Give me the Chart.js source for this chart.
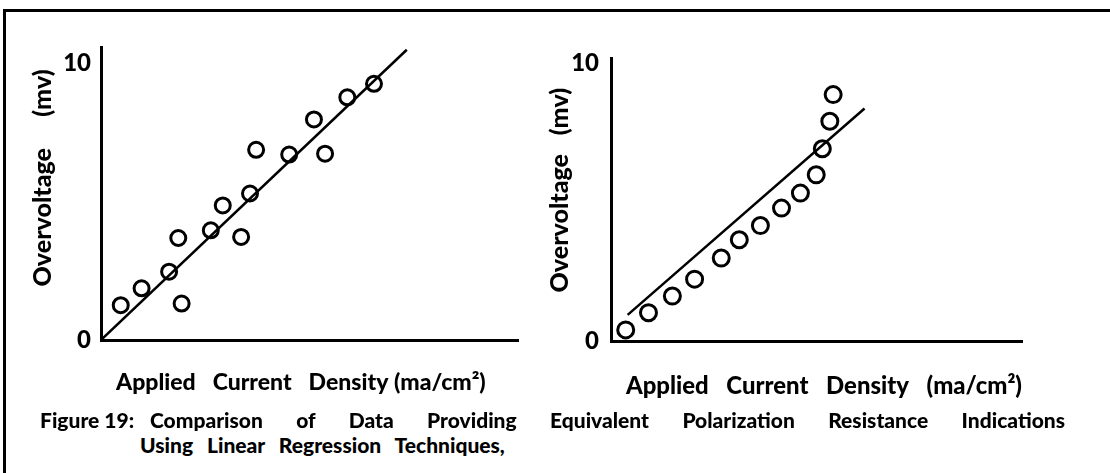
<!DOCTYPE html>
<html>
<head>
<meta charset="utf-8">
<script src="https://cdn.jsdelivr.net/npm/chart.js@4.4.1/dist/chart.umd.min.js"></script>
<style>
  html, body { margin: 0; padding: 0; background: #fff; }
  body { width: 1110px; height: 473px; position: relative; overflow: hidden; font-family: "Lato", "DejaVu Sans", sans-serif; color: #000; }
  .frame { position: absolute; left: 3px; top: 9px; width: 1120px; height: 480px; border-top: 3px solid #000; border-left: 3px solid #000; }
  .cv { position: absolute; top: 0; }
  .cap { position: absolute; font-family: "Lato", "DejaVu Sans", sans-serif; font-weight: 900; font-size: 21px; line-height: 24px; white-space: nowrap; }
  .just { text-align: justify; text-align-last: justify; white-space: normal; }
</style>
</head>
<body>
<div class="frame"></div>
<div class="cv" style="left:0;width:530px;height:410px;"><canvas id="c1"></canvas></div>
<div class="cv" style="left:530px;width:580px;height:410px;"><canvas id="c2"></canvas></div>
<div class="cap" style="left:40px;top:408px;">Figure 19:</div>
<div class="cap just" style="left:150px;top:408px;width:915px;">Comparison of Data Providing Equivalent Polarization Resistance Indications</div>
<div class="cap" style="left:140px;top:433px;word-spacing:9px;">Using Linear Regression Techniques,</div>
<script>
// ---- data ----
const yTickValues = [0, 10];
const leftYTitle = "\u2003\u2002Overvoltage\u2003\u2002(mv)";
const rightYTitle = "\u2002\u2005Overvoltage\u2003(mv)";
const leftXTitle = "Applied\u2002 Current\u2002 Density (ma/cm²)\u2003";
const rightXTitle = "\u2002\u2009Applied\u2002 Current\u2002 Density\u2002 (ma/cm²)";

// left panel: measured points and fitted line
const leftX = [0.71, 1.46, 2.45, 2.90, 2.78, 3.95, 4.38, 5.04, 5.36, 5.58, 6.77, 7.66, 8.06, 8.86, 9.82];
const leftY = [1.26, 1.87, 2.47, 1.32, 3.69, 3.97, 4.87, 3.73, 5.30, 6.88, 6.71, 7.98, 6.74, 8.78, 9.27];
const leftFitX = [0, 11.0];
const leftFitY = [0, 10.5];

// right panel: measured points and fitted line
const rightX = [0.53, 1.35, 2.21, 3.01, 3.97, 4.62, 5.38, 6.14, 6.82, 7.39, 7.61, 7.88, 8.00];
const rightY = [0.40, 1.02, 1.62, 2.23, 2.99, 3.65, 4.16, 4.79, 5.33, 5.99, 6.93, 7.92, 8.88];
const rightFitX = [0.6, 9.13];
const rightFitY = [0.94, 8.38];

const FONT = "Lato, 'DejaVu Sans', sans-serif";
const WEIGHT = 900;
Chart.defaults.font.family = FONT;
Chart.defaults.color = "#000";

function pts(xs, ys) { return xs.map((x, i) => ({ x: x, y: ys[i] })); }

function makeChart(id, cfg) {
  return new Chart(document.getElementById(id), {
    type: "scatter",
    data: {
      datasets: [
        { data: pts(cfg.px, cfg.py), pointStyle: "circle", pointRadius: cfg.r, pointHoverRadius: cfg.r,
          borderColor: "#000", backgroundColor: "rgba(0,0,0,0)", borderWidth: 3, pointBorderWidth: 3, order: 1 },
        { data: pts(cfg.fx, cfg.fy), showLine: true, pointRadius: 0, borderColor: "#000", borderWidth: 2.5, order: 2 }
      ]
    },
    options: {
      responsive: true, maintainAspectRatio: false, animation: false,
      plugins: { legend: { display: false }, tooltip: { enabled: false } },
      layout: { padding: cfg.pad },
      scales: {
        x: {
          type: "linear", min: 0, max: cfg.xmax,
          grid: { display: false, drawTicks: false },
          border: { display: true, color: "#000", width: 3 },
          ticks: { display: false },
          title: { display: true, text: cfg.xt, font: { size: cfg.xfs, weight: WEIGHT, family: FONT }, padding: { top: 0, bottom: cfg.xtpb } },
          afterFit: s => { s.height = cfg.xh; }
        },
        y: {
          type: "linear", min: 0, max: cfg.ymax,
          grid: { display: false, drawTicks: false },
          border: { display: true, color: "#000", width: 3 },
          afterBuildTicks: s => { s.ticks = yTickValues.map(v => ({ value: v })); },
          ticks: { padding: cfg.tp, font: { size: 24, weight: WEIGHT, family: FONT }, callback: v => String(v) },
          title: { display: true, text: cfg.yt, font: { size: 25, weight: WEIGHT, family: FONT }, padding: { top: cfg.ytpt, bottom: 0 } },
          afterFit: s => { s.width = cfg.yw; }
        }
      }
    }
  });
}

makeChart("c1", {
  px: leftX, py: leftY, fx: leftFitX, fy: leftFitY, r: 7.5,
  xmax: 15, ymax: 10.6, xt: leftXTitle, yt: leftYTitle, xfs: 23,
  pad: { left: 10, top: 47, right: 12, bottom: 0 },
  yw: 91, xh: 70, tp: 10, xtpb: 14, ytpt: 18
});
makeChart("c2", {
  px: rightX, py: rightY, fx: rightFitX, fy: rightFitY, r: 8,
  xmax: 14.8, ymax: 10.2, xt: rightXTitle, yt: rightYTitle, xfs: 24,
  pad: { left: 5, top: 58, right: 88, bottom: 0 },
  yw: 76, xh: 69, tp: 12, xtpb: 9, ytpt: 10
});
</script>
</body>
</html>
